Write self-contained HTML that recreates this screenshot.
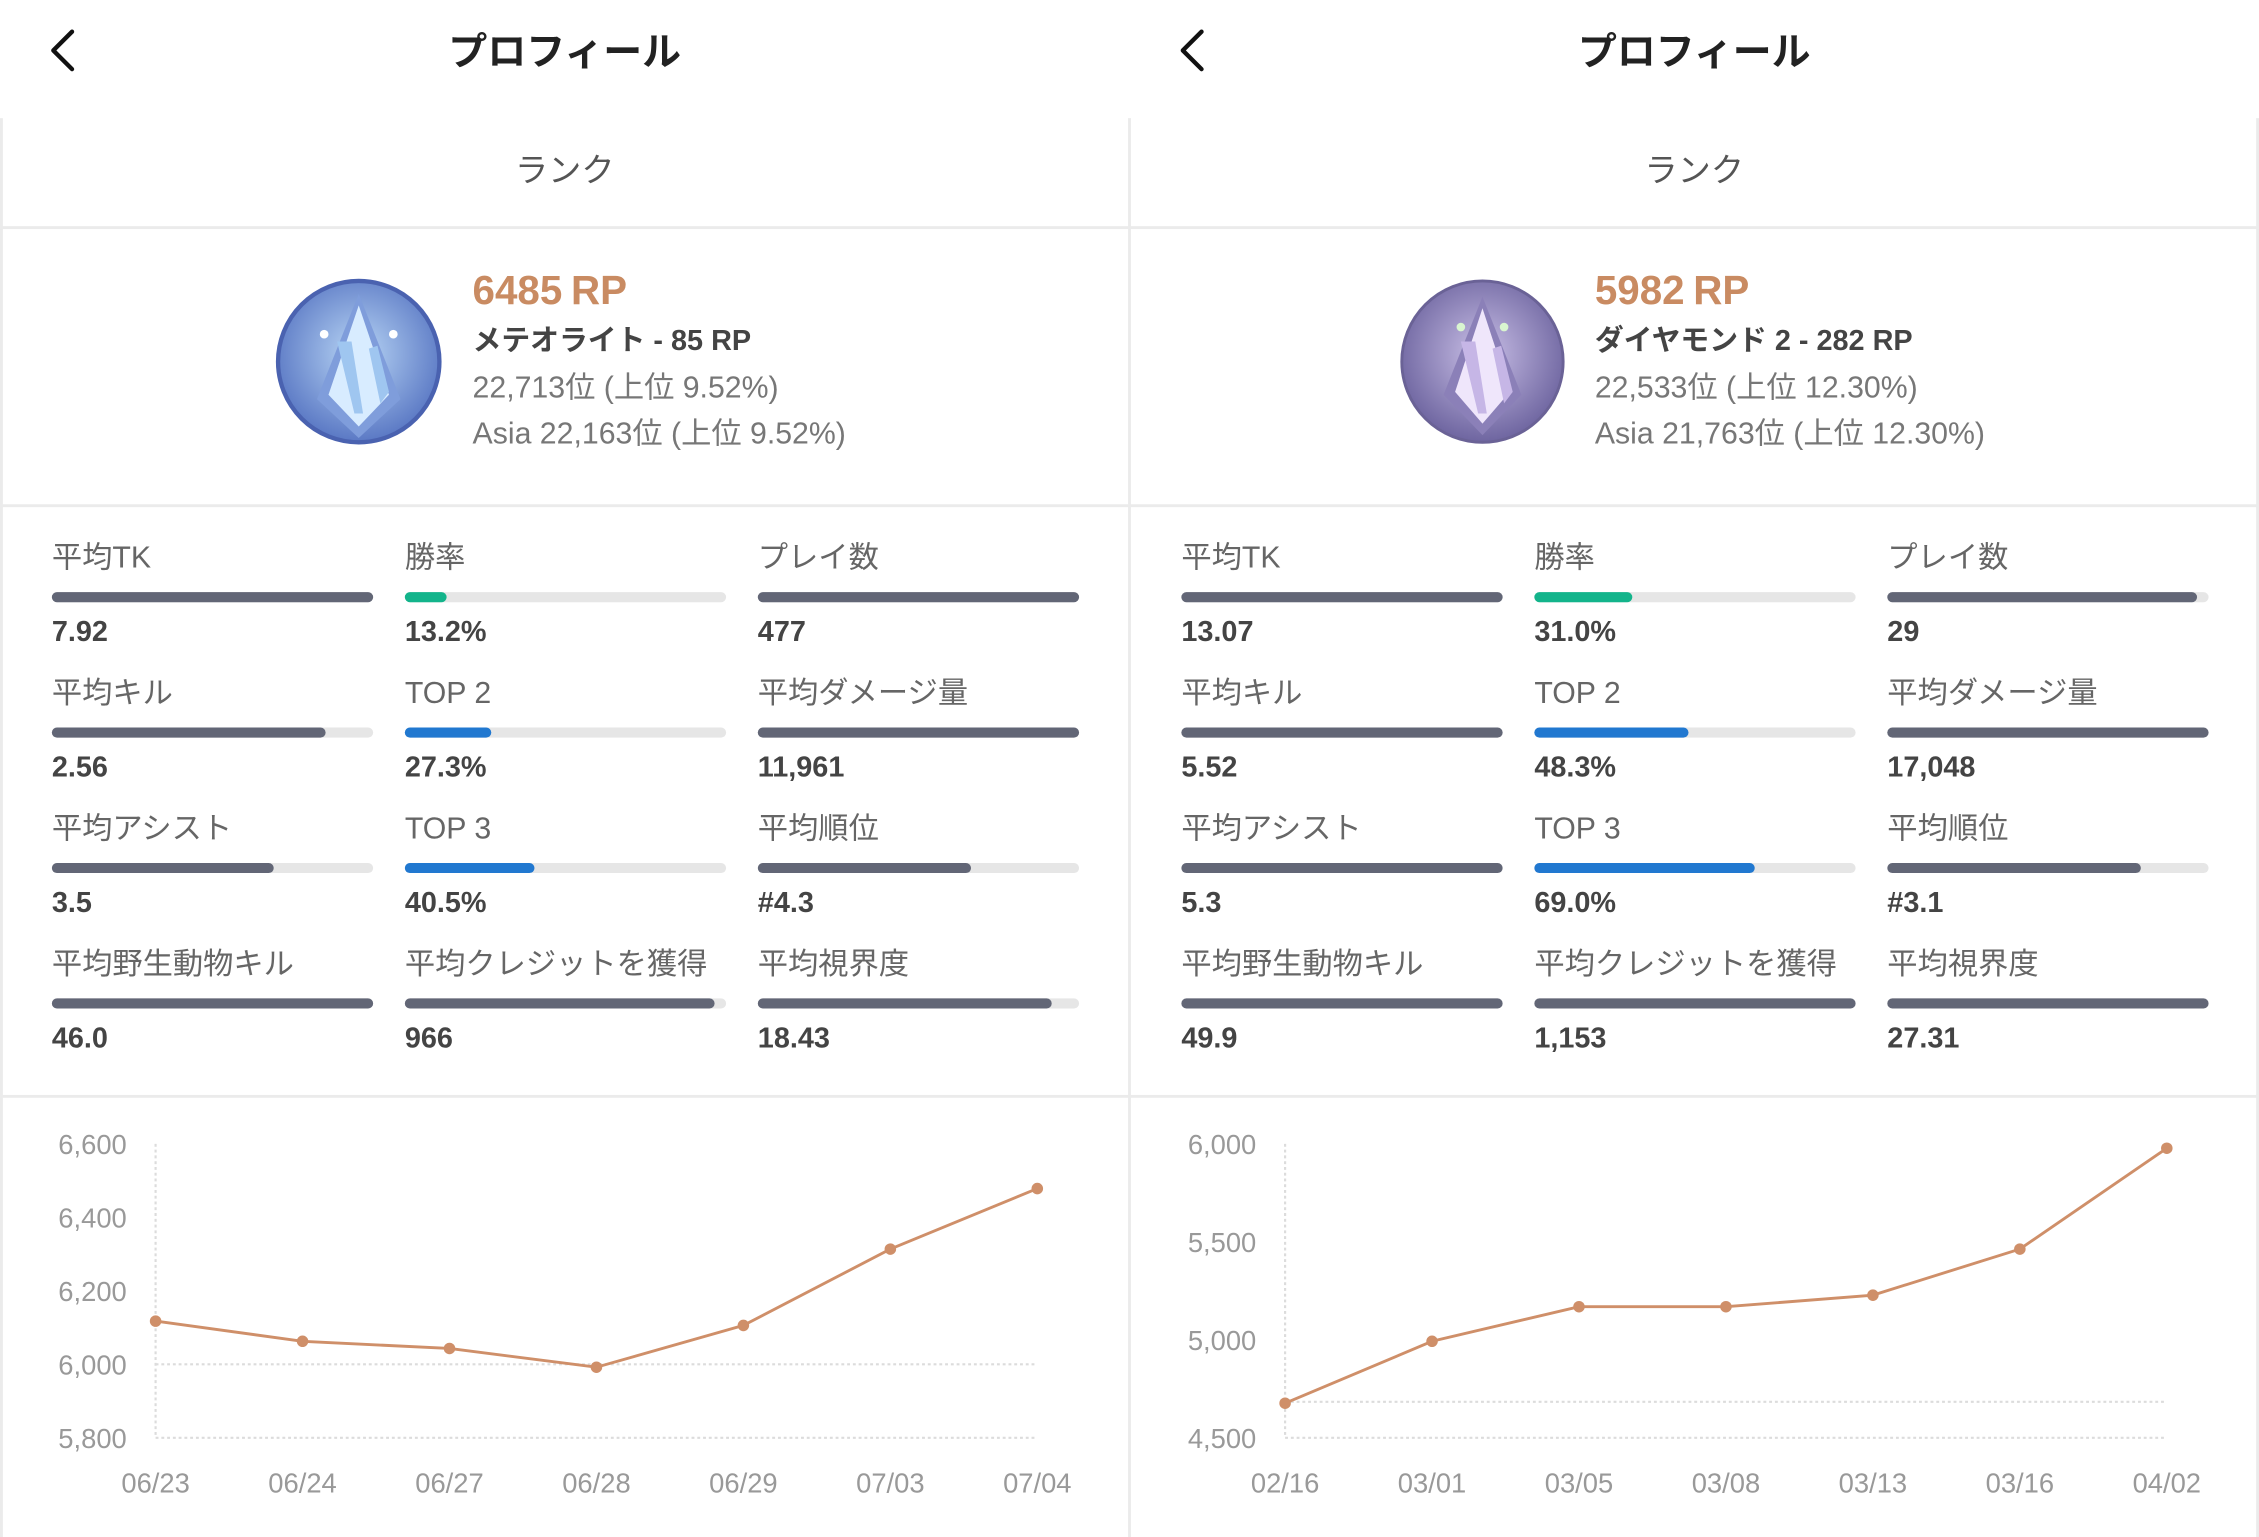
<!DOCTYPE html>
<html><head><meta charset="utf-8">
<style>
html,body{margin:0;padding:0;background:#fff;width:2259px;height:1537px;overflow:hidden}
#w{position:absolute;left:0;top:0;width:1568px;height:1067px;transform:scale(1.44069);transform-origin:0 0;font-family:"Liberation Sans","Noto Sans CJK JP",sans-serif}
.a{position:absolute;white-space:nowrap}
.t{font-size:27px;font-weight:bold;color:#222;height:40px;line-height:40px;top:16px;width:300px;text-align:center}
.rk{font-size:23px;color:#555;height:34px;line-height:34px;top:101px;width:300px;text-align:center}
.rp{font-size:28px;font-weight:bold;color:#c98b62;height:36px;line-height:36px}
.tier{font-size:20px;font-weight:bold;color:#444;height:30px;line-height:30px}
.sub{font-size:21px;color:#777;height:30px;line-height:30px}
.lb{font-size:21px;color:#666;height:28px;line-height:28px}
.vl{font-size:20px;font-weight:bold;color:#444;height:28px;line-height:28px}
.bar{position:absolute;height:7px;border-radius:4px;background:#e6e6e6;width:223px}
.bar i{position:absolute;left:0;top:0;height:7px;border-radius:4px;background:#626676}
.hl{position:absolute;height:2px;background:#ebebeb}
.vline{position:absolute;width:2px;background:#ebebeb}
</style></head><body><div id="w">
<svg class="a" style="left:0;top:0" width="1568" height="82">
<polyline points="50,22 37,35 50,48" fill="none" stroke="#111" stroke-width="3" stroke-linecap="round" stroke-linejoin="round"/>
<polyline points="834,22 821,35 834,48" fill="none" stroke="#111" stroke-width="3" stroke-linecap="round" stroke-linejoin="round"/>
</svg>
<div class="a t" style="left:242px">プロフィール</div>
<div class="a t" style="left:1026px">プロフィール</div>

<div class="vline" style="left:0;top:82px;height:985px"></div>
<div class="vline" style="left:783px;top:82px;height:985px"></div>
<div class="vline" style="left:1566px;top:82px;height:985px"></div>
<div class="hl" style="left:0;top:157px;width:1568px"></div>
<div class="hl" style="left:0;top:350px;width:1568px"></div>
<div class="hl" style="left:0;top:760px;width:1568px"></div>

<div class="a rk" style="left:242px">ランク</div>
<div class="a rk" style="left:1026px">ランク</div>

<svg class="a" style="left:190px;top:192px" width="118" height="118" viewBox="0 0 118 118">
<defs><radialGradient id="g1" cx="50%" cy="45%" r="55%"><stop offset="0" stop-color="#b9d6f5"/><stop offset="1" stop-color="#5a78c4"/></radialGradient></defs>
<circle cx="59" cy="59" r="56" fill="url(#g1)" stroke="#4a62b0" stroke-width="3"/>
<polygon points="59,12 30,85 59,112 88,85" fill="#7f9ddb"/>
<polygon points="59,20 38,82 59,104 80,82" fill="#d8ecff"/>
<path d="M44,45 L56,95 L62,95 L54,45 Z M66,50 L74,88 L80,80 L72,48 Z" fill="#9fc6f0"/>
<circle cx="35" cy="40" r="3" fill="#fff"/><circle cx="83" cy="40" r="3" fill="#fff"/>
</svg>
<svg class="a" style="left:970px;top:192px" width="118" height="118" viewBox="0 0 118 118">
<defs><radialGradient id="g2" cx="50%" cy="45%" r="55%"><stop offset="0" stop-color="#c9bfe6"/><stop offset="1" stop-color="#6e65a0"/></radialGradient></defs>
<circle cx="59" cy="59" r="56" fill="url(#g2)" stroke="#6a6296" stroke-width="2"/>
<polygon points="59,14 32,82 59,110 86,82" fill="#8b80b8"/>
<polygon points="59,22 40,80 59,102 78,80" fill="#efe6fb"/>
<path d="M44,45 L56,95 L62,95 L54,45 Z M66,50 L74,88 L80,80 L72,48 Z" fill="#c6b6e6"/>
<circle cx="44" cy="35" r="3" fill="#d9f5d0"/><circle cx="74" cy="35" r="3" fill="#d9f5d0"/>
</svg>

<div class="a rp" style="left:328px;top:184px">6485<span style="margin-left:6px">RP</span></div>
<div class="a tier" style="left:328px;top:222px">メテオライト - 85 RP</div>
<div class="a sub" style="left:328px;top:255px">22,713位 (上位 9.52%)</div>
<div class="a sub" style="left:328px;top:287px">Asia 22,163位 (上位 9.52%)</div>

<div class="a rp" style="left:1107px;top:184px">5982<span style="margin-left:6px">RP</span></div>
<div class="a tier" style="left:1107px;top:222px">ダイヤモンド 2 - 282 RP</div>
<div class="a sub" style="left:1107px;top:255px">22,533位 (上位 12.30%)</div>
<div class="a sub" style="left:1107px;top:287px">Asia 21,763位 (上位 12.30%)</div>

<div class="a lb" style="left:36px;top:374px">平均TK</div><div class="bar" style="left:36px;top:411px"><i style="width:223px"></i></div><div class="a vl" style="left:36px;top:425px">7.92</div>
<div class="a lb" style="left:281px;top:374px">勝率</div><div class="bar" style="left:281px;top:411px"><i style="width:29px;background:#13b48b"></i></div><div class="a vl" style="left:281px;top:425px">13.2%</div>
<div class="a lb" style="left:526px;top:374px">プレイ数</div><div class="bar" style="left:526px;top:411px"><i style="width:223px"></i></div><div class="a vl" style="left:526px;top:425px">477</div>

<div class="a lb" style="left:36px;top:468px">平均キル</div><div class="bar" style="left:36px;top:505px"><i style="width:190px"></i></div><div class="a vl" style="left:36px;top:519px">2.56</div>
<div class="a lb" style="left:281px;top:468px">TOP 2</div><div class="bar" style="left:281px;top:505px"><i style="width:60px;background:#2178d0"></i></div><div class="a vl" style="left:281px;top:519px">27.3%</div>
<div class="a lb" style="left:526px;top:468px">平均ダメージ量</div><div class="bar" style="left:526px;top:505px"><i style="width:223px"></i></div><div class="a vl" style="left:526px;top:519px">11,961</div>

<div class="a lb" style="left:36px;top:562px">平均アシスト</div><div class="bar" style="left:36px;top:599px"><i style="width:154px"></i></div><div class="a vl" style="left:36px;top:613px">3.5</div>
<div class="a lb" style="left:281px;top:562px">TOP 3</div><div class="bar" style="left:281px;top:599px"><i style="width:90px;background:#2178d0"></i></div><div class="a vl" style="left:281px;top:613px">40.5%</div>
<div class="a lb" style="left:526px;top:562px">平均順位</div><div class="bar" style="left:526px;top:599px"><i style="width:148px"></i></div><div class="a vl" style="left:526px;top:613px">#4.3</div>

<div class="a lb" style="left:36px;top:656px">平均野生動物キル</div><div class="bar" style="left:36px;top:693px"><i style="width:223px"></i></div><div class="a vl" style="left:36px;top:707px">46.0</div>
<div class="a lb" style="left:281px;top:656px">平均クレジットを獲得</div><div class="bar" style="left:281px;top:693px"><i style="width:215px"></i></div><div class="a vl" style="left:281px;top:707px">966</div>
<div class="a lb" style="left:526px;top:656px">平均視界度</div><div class="bar" style="left:526px;top:693px"><i style="width:204px"></i></div><div class="a vl" style="left:526px;top:707px">18.43</div>

<div class="a lb" style="left:820px;top:374px">平均TK</div><div class="bar" style="left:820px;top:411px"><i style="width:223px"></i></div><div class="a vl" style="left:820px;top:425px">13.07</div>
<div class="a lb" style="left:1065px;top:374px">勝率</div><div class="bar" style="left:1065px;top:411px"><i style="width:68px;background:#13b48b"></i></div><div class="a vl" style="left:1065px;top:425px">31.0%</div>
<div class="a lb" style="left:1310px;top:374px">プレイ数</div><div class="bar" style="left:1310px;top:411px"><i style="width:215px"></i></div><div class="a vl" style="left:1310px;top:425px">29</div>

<div class="a lb" style="left:820px;top:468px">平均キル</div><div class="bar" style="left:820px;top:505px"><i style="width:223px"></i></div><div class="a vl" style="left:820px;top:519px">5.52</div>
<div class="a lb" style="left:1065px;top:468px">TOP 2</div><div class="bar" style="left:1065px;top:505px"><i style="width:107px;background:#2178d0"></i></div><div class="a vl" style="left:1065px;top:519px">48.3%</div>
<div class="a lb" style="left:1310px;top:468px">平均ダメージ量</div><div class="bar" style="left:1310px;top:505px"><i style="width:223px"></i></div><div class="a vl" style="left:1310px;top:519px">17,048</div>

<div class="a lb" style="left:820px;top:562px">平均アシスト</div><div class="bar" style="left:820px;top:599px"><i style="width:223px"></i></div><div class="a vl" style="left:820px;top:613px">5.3</div>
<div class="a lb" style="left:1065px;top:562px">TOP 3</div><div class="bar" style="left:1065px;top:599px"><i style="width:153px;background:#2178d0"></i></div><div class="a vl" style="left:1065px;top:613px">69.0%</div>
<div class="a lb" style="left:1310px;top:562px">平均順位</div><div class="bar" style="left:1310px;top:599px"><i style="width:176px"></i></div><div class="a vl" style="left:1310px;top:613px">#3.1</div>

<div class="a lb" style="left:820px;top:656px">平均野生動物キル</div><div class="bar" style="left:820px;top:693px"><i style="width:223px"></i></div><div class="a vl" style="left:820px;top:707px">49.9</div>
<div class="a lb" style="left:1065px;top:656px">平均クレジットを獲得</div><div class="bar" style="left:1065px;top:693px"><i style="width:223px"></i></div><div class="a vl" style="left:1065px;top:707px">1,153</div>
<div class="a lb" style="left:1310px;top:656px">平均視界度</div><div class="bar" style="left:1310px;top:693px"><i style="width:223px"></i></div><div class="a vl" style="left:1310px;top:707px">27.31</div>

<svg class="a" style="left:0;top:0" width="1568" height="1067" font-family="Liberation Sans, sans-serif" font-size="19" fill="#999">
<g stroke="#dcdcdc" stroke-width="1.5" stroke-dasharray="2,2" fill="none">
<line x1="108" y1="794" x2="108" y2="998"/><line x1="108" y1="947" x2="720" y2="947"/><line x1="108" y1="998" x2="720" y2="998"/>
<line x1="892" y1="794" x2="892" y2="998"/><line x1="892" y1="973" x2="1504" y2="973"/><line x1="892" y1="998" x2="1504" y2="998"/>
</g>
<g text-anchor="end">
<text x="88" y="801">6,600</text><text x="88" y="852">6,400</text><text x="88" y="903">6,200</text><text x="88" y="954">6,000</text><text x="88" y="1005">5,800</text>
<text x="872" y="801">6,000</text><text x="872" y="869">5,500</text><text x="872" y="937">5,000</text><text x="872" y="1005">4,500</text>
</g>
<g text-anchor="middle">
<text x="108" y="1036">06/23</text><text x="210" y="1036">06/24</text><text x="312" y="1036">06/27</text><text x="414" y="1036">06/28</text><text x="516" y="1036">06/29</text><text x="618" y="1036">07/03</text><text x="720" y="1036">07/04</text>
<text x="892" y="1036">02/16</text><text x="994" y="1036">03/01</text><text x="1096" y="1036">03/05</text><text x="1198" y="1036">03/08</text><text x="1300" y="1036">03/13</text><text x="1402" y="1036">03/16</text><text x="1504" y="1036">04/02</text>
</g>
<polyline fill="none" stroke="#cf8f69" stroke-width="2" points="108,917 210,931 312,936 414,949 516,920 618,867 720,825"/>
<polyline fill="none" stroke="#cf8f69" stroke-width="2" points="892,974 994,931 1096,907 1198,907 1300,899 1402,867 1504,797"/>
<g fill="#cf8f69">
<circle cx="108" cy="917" r="4"/><circle cx="210" cy="931" r="4"/><circle cx="312" cy="936" r="4"/><circle cx="414" cy="949" r="4"/><circle cx="516" cy="920" r="4"/><circle cx="618" cy="867" r="4"/><circle cx="720" cy="825" r="4"/>
<circle cx="892" cy="974" r="4"/><circle cx="994" cy="931" r="4"/><circle cx="1096" cy="907" r="4"/><circle cx="1198" cy="907" r="4"/><circle cx="1300" cy="899" r="4"/><circle cx="1402" cy="867" r="4"/><circle cx="1504" cy="797" r="4"/>
</g>
</svg>
</div></body></html>
